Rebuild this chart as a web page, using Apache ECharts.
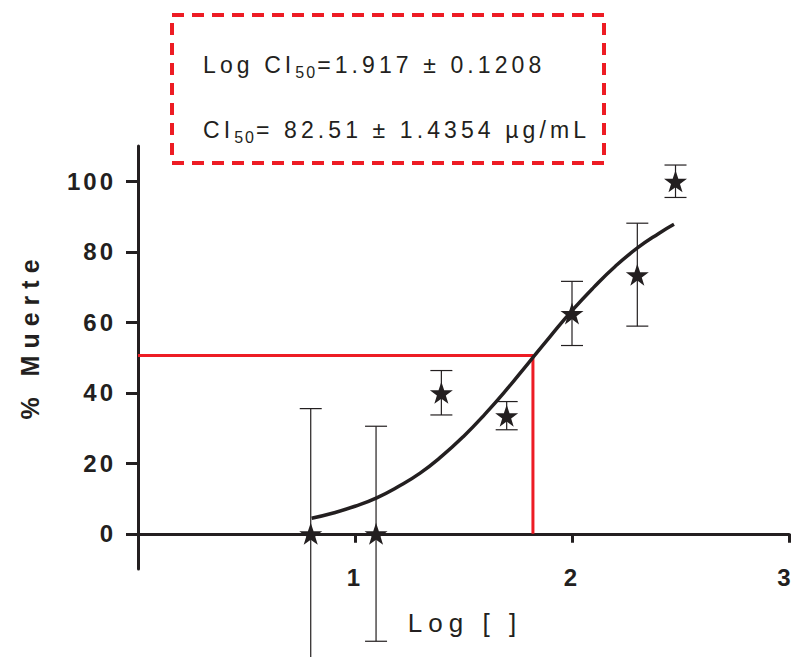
<!DOCTYPE html>
<html>
<head>
<meta charset="utf-8">
<script src="https://cdn.jsdelivr.net/npm/echarts@6/dist/echarts.min.js"></script>
<style>
  html, body { margin: 0; padding: 0; background: #ffffff; }
  #chart { width: 793px; height: 657px; }
  /* letter-spaced typography, keyed on font size of each text role */
  #chart text[style*="24px"] { letter-spacing: 3px; }
  #chart text[style*="25px"] { letter-spacing: 7px; }
  #chart text[style*="26px"] { letter-spacing: 6px; }
  #chart text[style*="23px"] { letter-spacing: 4.1px; }
  #chart text[style*="16px"] { letter-spacing: 2px; }
</style>
</head>
<body>
<div id="chart"></div>
<script>
// log10 of concentration (6.25 ... 300 µg/mL)
const logConc = [0.796, 1.097, 1.398, 1.699, 2.000, 2.301, 2.477];
// mean mortality (%)
const mortality = [0, 0, 40, 33.5, 62.5, 73.5, 100];
// error (±)
const errorBar = [35.5, 30.5, 6.3, 4.0, 9.1, 14.6, 4.6];

// dose-response fitted curve
const fitX = [0.8, 0.9, 1.0, 1.1, 1.2, 1.3, 1.4, 1.5, 1.6, 1.7, 1.8, 1.9, 2.0, 2.1, 2.2, 2.3, 2.4, 2.47];
const fitY = [4.4, 5.9, 7.8, 10.2, 13.4, 17.2, 22.0, 27.6, 34.0, 41.0, 48.5, 56.0, 63.3, 69.9, 75.9, 81.0, 85.2, 87.8];

// CI50 guide lines
const guideX = [0, 1.82, 1.82];
const guideY = [50.6, 50.6, 0];

// axis ticks
const yTicks = [0, 20, 40, 60, 80, 100];
const xTicks = [1, 2, 3];

const INK = '#231f20';
const RED = '#ed1c24';
const FONT = '"Liberation Sans", Arial, sans-serif';

const starPath = 'path://M50,0 L61.8,35.1 L98.1,35.1 L68.7,56.8 L79.4,91 L50,70 L20.6,91 L31.3,56.8 L1.9,35.1 L38.2,35.1 Z';

// width of a letter-spaced string, used to place subscript pieces
const measureCtx = document.createElement('canvas').getContext('2d');
function spacedWidth(str, size, spacing) {
  measureCtx.font = size + 'px "Liberation Sans", Arial, sans-serif';
  return measureCtx.measureText(str).width + spacing * str.length;
}

function subscriptLine(parts, x, y) {
  // parts: [text, isSub]
  const els = [];
  let cx = x;
  parts.forEach(function (p) {
    const sub = p[1];
    const size = sub ? 16 : 23;
    const sp = sub ? 2 : 4.1;
    els.push({
      type: 'text',
      x: cx,
      y: sub ? y + 7 : y,
      style: {
        text: p[0],
        fontSize: size,
        fontFamily: FONT,
        fill: INK,
        textVerticalAlign: 'middle',
        textAlign: 'left'
      }
    });
    cx += spacedWidth(p[0], size, sp);
  });
  return els;
}

const chart = echarts.init(document.getElementById('chart'), null, { renderer: 'svg' });

const errData = logConc.map(function (x, i) {
  return [x, mortality[i] - errorBar[i], mortality[i] + errorBar[i]];
});

const xMax = 3;

const option = {
  animation: false,
  backgroundColor: '#ffffff',
  grid: { left: 138, right: 4, top: 146, bottom: 88, containLabel: false, outerBoundsMode: 'none' },
  xAxis: {
    type: 'value',
    min: 0,
    max: xMax,
    axisLine: { onZero: true, lineStyle: { color: INK, width: 3 } },
    axisTick: { customValues: xTicks, length: 9, lineStyle: { color: INK, width: 3 } },
    axisLabel: {
      customValues: xTicks,
      margin: -4,
      color: INK,
      fontSize: 24,
      fontWeight: 'bold',
      fontFamily: FONT,
      // keep the last label inside the right edge
      formatter: function (v) { return v === xMax ? '{edge|' + v + '}' : String(v); },
      rich: {
        edge: { fontSize: 24, fontWeight: 'bold', fontFamily: FONT, color: INK, padding: [0, 7, 0, 0] }
      }
    },
    splitLine: { show: false }
  },
  yAxis: {
    type: 'value',
    min: -10,
    max: 110,
    axisLine: { show: true, onZero: false, lineStyle: { color: INK, width: 3 } },
    axisTick: { customValues: yTicks, length: 12, lineStyle: { color: INK, width: 3 } },
    axisLabel: {
      customValues: yTicks,
      margin: 22,
      color: INK,
      fontSize: 24,
      fontWeight: 'bold',
      fontFamily: FONT
    },
    splitLine: { show: false }
  },
  series: [
    {
      name: 'guide',
      type: 'line',
      data: guideX.map(function (x, i) { return [x, guideY[i]]; }),
      showSymbol: false,
      lineStyle: { color: RED, width: 3 },
      z: 2
    },
    {
      name: 'fit',
      type: 'line',
      data: fitX.map(function (x, i) { return [x, fitY[i]]; }),
      smooth: true,
      showSymbol: false,
      lineStyle: { color: INK, width: 3.5 },
      z: 3
    },
    {
      name: 'error',
      type: 'custom',
      clip: false,
      data: errData,
      renderItem: function (params, api) {
        const lo = api.coord([api.value(0), api.value(1)]);
        const hi = api.coord([api.value(0), api.value(2)]);
        const half = 11;
        const st = { stroke: INK, lineWidth: 1.2 };
        return {
          type: 'group',
          children: [
            { type: 'line', shape: { x1: lo[0], y1: lo[1], x2: hi[0], y2: hi[1] }, style: st },
            { type: 'line', shape: { x1: hi[0] - half, y1: hi[1], x2: hi[0] + half, y2: hi[1] }, style: st },
            { type: 'line', shape: { x1: lo[0] - half, y1: lo[1], x2: lo[0] + half, y2: lo[1] }, style: st }
          ]
        };
      },
      z: 4
    },
    {
      name: 'mortality',
      type: 'scatter',
      data: logConc.map(function (x, i) { return [x, mortality[i]]; }),
      symbol: starPath,
      symbolSize: [23, 22],
      itemStyle: { color: INK, opacity: 1 },
      z: 5
    }
  ],
  graphic: [
    {
      type: 'rect',
      shape: { x: 172, y: 15, width: 432, height: 148 },
      style: { fill: 'none', stroke: RED, lineWidth: 4, lineDash: [12, 8] }
    },
    {
      type: 'group',
      children: subscriptLine([['Log CI', false], ['50', true], ['=1.917 ± 0.1208', false]], 203, 65)
    },
    {
      type: 'group',
      children: subscriptLine([['CI', false], ['50', true], ['= 82.51 ± 1.4354 µg/mL', false]], 203, 130)
    },
    {
      type: 'text',
      x: 30,
      y: 336,
      rotation: Math.PI / 2,
      style: {
        text: '% Muerte',
        fontSize: 25,
        fontWeight: 'bold',
        fontFamily: FONT,
        fill: INK,
        textAlign: 'center',
        textVerticalAlign: 'middle'
      }
    },
    {
      type: 'text',
      x: 465,
      y: 623,
      style: {
        text: 'Log [ ]',
        fontSize: 26,
        fontFamily: FONT,
        fill: INK,
        textAlign: 'center',
        textVerticalAlign: 'middle'
      }
    }
  ]
};

chart.setOption(option);
</script>
</body>
</html>
